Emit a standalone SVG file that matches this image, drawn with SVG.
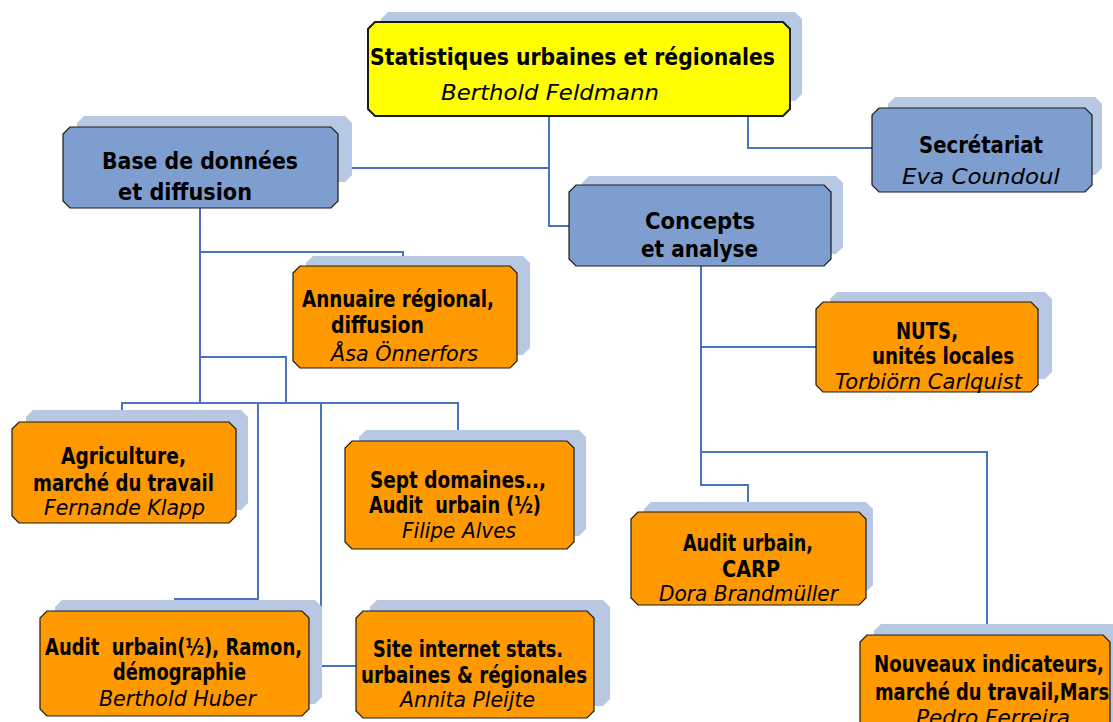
<svg xmlns="http://www.w3.org/2000/svg" width="1113" height="722" viewBox="0 0 1113 722">
<style>
.sh{fill:#B8C8E2;stroke:none}
.bl{fill:#7E9ECF;stroke:#1a1a1a;stroke-width:1.2}
.or{fill:#FF9900;stroke:#1a1a1a;stroke-width:1.2}
.ye{fill:#FFFF00;stroke:#1a1a1a;stroke-width:2}
.b{font-family:"DejaVu Sans",Verdana,sans-serif;font-weight:bold;font-size:23px;fill:#000}
.i{font-family:"DejaVu Sans",Verdana,sans-serif;font-style:italic;font-size:21px;fill:#000}
.c{fill:none;stroke:#4A72C2;stroke-width:2}
</style>
<rect width="1113" height="722" fill="#fff"/>
<g id="connectors">
<path class="c" d="M549,116 V226 H569"/>
<path class="c" d="M338,168 H549"/>
<path class="c" d="M748,116 V148 H872"/>
<path class="c" d="M200,208 V403"/>
<path class="c" d="M200,252 H403 V266"/>
<path class="c" d="M200,357 H286 V403"/>
<path class="c" d="M122,422 V403 H458 V441"/>
<path class="c" d="M258,403 V599 H175 V611"/>
<path class="c" d="M321,403 V666 H356"/>
<path class="c" d="M701,266 V485 H748 V512"/>
<path class="c" d="M701,347 H816"/>
<path class="c" d="M701,452 H987 V635"/>
</g>
<g id="n-top">
<path class="sh" d="M388,12 H795 L802,19 V94 L795,101 H388 L381,94 V19 Z"/>
<path class="ye" d="M375,22 H783 L790,29 V109 L783,116 H375 L368,109 V29 Z"/>
<text class="b" x="370" y="65" font-size="27" textLength="405" lengthAdjust="spacingAndGlyphs">Statistiques urbaines et régionales</text>
<text class="i" x="441" y="100" font-size="23" textLength="218" lengthAdjust="spacingAndGlyphs">Berthold Feldmann</text>
</g>
<g id="n-base">
<path class="sh" d="M84,116 H345 L352,123 V175 L345,182 H84 L77,175 V123 Z"/>
<path class="bl" d="M70,127 H331 L338,134 V201 L331,208 H70 L63,201 V134 Z"/>
<text class="b" x="102" y="169" font-size="24" textLength="196" lengthAdjust="spacingAndGlyphs">Base de données</text>
<text class="b" x="118" y="200" font-size="24" textLength="134" lengthAdjust="spacingAndGlyphs">et diffusion</text>
</g>
<g id="n-secr">
<path class="sh" d="M895,97 H1095 L1102,104 V168 L1095,175 H895 L888,168 V104 Z"/>
<path class="bl" d="M879,108 H1085 L1092,115 V185 L1085,192 H879 L872,185 V115 Z"/>
<text class="b" x="919" y="153" font-size="24" textLength="124" lengthAdjust="spacingAndGlyphs">Secrétariat</text>
<text class="i" x="902" y="184" font-size="22" textLength="158" lengthAdjust="spacingAndGlyphs">Eva Coundoul</text>
</g>
<g id="n-concepts">
<path class="sh" d="M589,176 H836 L843,183 V247 L836,254 H589 L582,247 V183 Z"/>
<path class="bl" d="M576,185 H824 L831,192 V259 L824,266 H576 L569,259 V192 Z"/>
<text class="b" x="645" y="229" font-size="24" textLength="110" lengthAdjust="spacingAndGlyphs">Concepts</text>
<text class="b" x="641" y="257" font-size="24" textLength="117" lengthAdjust="spacingAndGlyphs">et analyse</text>
</g>
<g id="n-annuaire">
<path class="sh" d="M313,256 H523 L530,263 V348 L523,355 H313 L306,348 V263 Z"/>
<path class="or" d="M300,266 H510 L517,273 V361 L510,368 H300 L293,361 V273 Z"/>
<text class="b" x="302" y="307" textLength="192" lengthAdjust="spacingAndGlyphs">Annuaire régional,</text>
<text class="b" x="331" y="333" textLength="93" lengthAdjust="spacingAndGlyphs">diffusion</text>
<text class="i" x="331" y="361" textLength="147" lengthAdjust="spacingAndGlyphs">Åsa Önnerfors</text>
</g>
<g id="n-nuts">
<path class="sh" d="M837,292 H1045 L1052,299 V372 L1045,379 H837 L830,372 V299 Z"/>
<path class="or" d="M823,302 H1031 L1038,309 V385 L1031,392 H823 L816,385 V309 Z"/>
<text class="b" x="896" y="339" textLength="62" lengthAdjust="spacingAndGlyphs">NUTS,</text>
<text class="b" x="872" y="364" textLength="142" lengthAdjust="spacingAndGlyphs">unités locales</text>
<text class="i" x="835" y="389" textLength="187" lengthAdjust="spacingAndGlyphs">Torbiörn Carlquist</text>
</g>
<g id="n-agri">
<path class="sh" d="M33,410 H241 L248,417 V503 L241,510 H33 L26,503 V417 Z"/>
<path class="or" d="M19,422 H229 L236,429 V516 L229,523 H19 L12,516 V429 Z"/>
<text class="b" x="61" y="464" textLength="125" lengthAdjust="spacingAndGlyphs">Agriculture,</text>
<text class="b" x="33" y="491" textLength="181" lengthAdjust="spacingAndGlyphs">marché du travail</text>
<text class="i" x="44" y="515" textLength="161" lengthAdjust="spacingAndGlyphs">Fernande Klapp</text>
</g>
<g id="n-sept">
<path class="sh" d="M366,430 H579 L586,437 V529 L579,536 H366 L359,529 V437 Z"/>
<path class="or" d="M352,441 H567 L574,448 V542 L567,549 H352 L345,542 V448 Z"/>
<text class="b" x="370" y="488" textLength="176" lengthAdjust="spacingAndGlyphs">Sept domaines..,</text>
<text class="b" x="369" y="513" textLength="172" lengthAdjust="spacingAndGlyphs" xml:space="preserve">Audit  urbain (½)</text>
<text class="i" x="402" y="538" textLength="114" lengthAdjust="spacingAndGlyphs">Filipe Alves</text>
</g>
<g id="n-carp">
<path class="sh" d="M651,502 H866 L873,509 V585 L866,592 H651 L644,585 V509 Z"/>
<path class="or" d="M638,512 H859 L866,519 V598 L859,605 H638 L631,598 V519 Z"/>
<text class="b" x="683" y="551" textLength="130" lengthAdjust="spacingAndGlyphs">Audit urbain,</text>
<text class="b" x="722" y="577" textLength="58" lengthAdjust="spacingAndGlyphs">CARP</text>
<text class="i" x="659" y="601" textLength="179" lengthAdjust="spacingAndGlyphs">Dora Brandmüller</text>
</g>
<g id="n-ramon">
<path class="sh" d="M62,600 H315 L322,607 V697 L315,704 H62 L55,697 V607 Z"/>
<path class="or" d="M47,611 H302 L309,618 V709 L302,716 H47 L40,709 V618 Z"/>
<text class="b" x="45" y="655" textLength="257" lengthAdjust="spacingAndGlyphs" xml:space="preserve">Audit  urbain(½), Ramon,</text>
<text class="b" x="113" y="680" textLength="133" lengthAdjust="spacingAndGlyphs">démographie</text>
<text class="i" x="99" y="706" textLength="157" lengthAdjust="spacingAndGlyphs">Berthold Huber</text>
</g>
<g id="n-site">
<path class="sh" d="M377,600 H603 L610,607 V699 L603,706 H377 L370,699 V607 Z"/>
<path class="or" d="M363,611 H587 L594,618 V711 L587,718 H363 L356,711 V618 Z"/>
<text class="b" x="373" y="657" textLength="190" lengthAdjust="spacingAndGlyphs">Site internet stats.</text>
<text class="b" x="361" y="683" textLength="226" lengthAdjust="spacingAndGlyphs">urbaines &amp; régionales</text>
<text class="i" x="400" y="707" textLength="135" lengthAdjust="spacingAndGlyphs">Annita Pleijte</text>
</g>
<g id="n-nouveaux">
<path class="sh" d="M881,624 H1130 V740 H874 V631 Z"/>
<path class="or" d="M867,635 H1103 L1110,642 V740 H860 V642 Z"/>
<text class="b" x="874" y="672" textLength="230" lengthAdjust="spacingAndGlyphs">Nouveaux indicateurs,</text>
<text class="b" x="875" y="700" textLength="234" lengthAdjust="spacingAndGlyphs">marché du travail,Mars</text>
<text class="i" x="916" y="725" textLength="154" lengthAdjust="spacingAndGlyphs">Pedro Ferreira</text>
</g>
</svg>
